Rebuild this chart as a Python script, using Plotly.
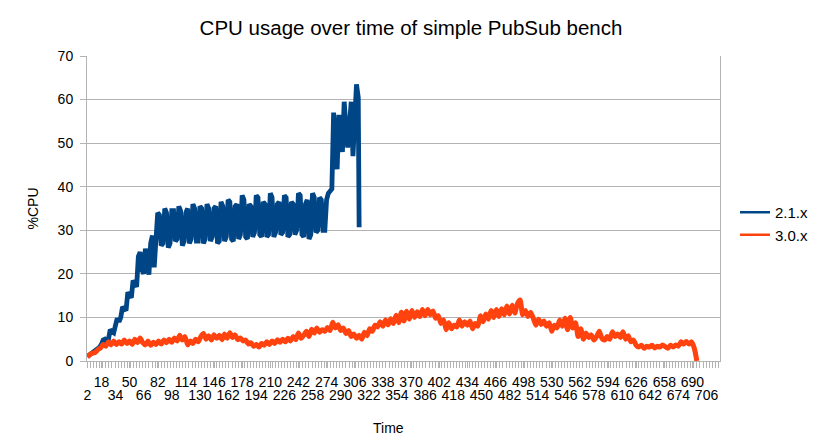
import plotly.graph_objects as go

# ---- data ----
blue_name = "2.1.x"
orange_name = "3.0.x"

blue_time = list(range(2, 311, 2)) + [311]
blue_cpu = [
    # rise (time 2..80)
    1.0, 1.3, 1.7, 2.0, 2.3, 2.6, 2.9, 3.2, 3.8, 4.8,
    5.0, 4.6, 5.0, 7.2, 6.8, 6.5, 8.2, 9.8, 9.0, 10.0,
    12.4, 12.0, 11.6, 15.8, 15.2, 14.5, 18.5, 17.5, 17.0, 24.0,
    25.0, 21.0, 20.0, 25.8, 23.0, 19.8, 27.0, 28.8, 21.5, 27.0,
    # plateau (time 82..272)
    34.0, 33.5, 26.5, 27.0,
    35.0, 34.0, 26.0, 27.0,
    34.5, 34.5, 27.5, 28.0,
    35.5, 34.5, 26.5, 27.5,
    34.0, 35.0, 27.0, 28.0,
    36.0, 35.0, 27.5, 27.5,
    35.5, 35.0, 27.0, 28.0,
    36.0, 35.0, 27.5, 28.5,
    35.0, 35.5, 27.0, 27.5,
    36.5, 35.5, 27.5, 28.5,
    37.0, 36.5, 28.0, 27.5,
    35.5, 36.0, 28.0, 29.0,
    38.0, 37.0, 28.5, 28.0,
    36.0, 35.5, 28.5, 29.5,
    38.0, 37.5, 29.0, 28.5,
    36.5, 36.0, 28.5, 29.0,
    38.5, 37.5, 28.5, 29.5,
    36.0, 36.5, 29.0, 29.5,
    38.0, 37.5, 28.5, 29.0,
    36.5, 36.0, 29.0, 30.0,
    38.5, 38.0, 29.0, 28.5,
    36.0, 37.0, 28.0, 29.0,
    38.5, 37.5, 29.5, 30.0,
    37.5, 37.0, 30.0, 30.0,
    # jump and end (time 274..311)
    37.0, 38.5, 39.0, 39.5, 57.0, 50.0, 44.0, 56.5, 50.0, 48.0,
    59.5, 54.0, 49.0, 54.0, 59.5, 47.0, 58.0, 63.5, 60.5, 30.7,
]

orange_time = list(range(2, 696, 3))
orange_cpu = [
    0.9, 1.5, 1.8, 2.0, 2.6, 3.0, 3.8, 3.4, 4.4, 3.7,
    4.6, 3.8, 4.4, 3.9, 4.8, 4.0, 4.6, 3.8, 5.0, 4.2,
    5.3, 4.2, 3.7, 4.6, 3.6, 4.3, 3.8, 4.6, 3.9, 4.8,
    4.2, 5.0, 4.3, 5.3, 4.6, 5.9, 4.8, 5.6, 3.7, 4.6,
    4.0, 5.0, 4.4, 5.6, 6.3, 5.0, 5.8, 4.8, 6.0, 5.2,
    5.9, 4.9, 6.2, 5.2, 6.5, 5.4, 6.0, 4.9, 5.3, 4.6,
    4.8, 3.9, 4.2, 3.4, 3.8, 3.2, 4.0, 3.6, 4.4, 3.8,
    4.6, 4.0, 4.9, 4.3, 5.0, 4.4, 5.2, 4.6, 5.6, 4.9,
    6.4, 5.2, 5.9, 6.8, 5.6, 7.3, 6.4, 7.6, 6.6, 7.2,
    6.8, 7.7, 7.0, 8.9, 7.6, 8.3, 7.0, 7.6, 6.3, 7.0,
    5.6, 6.2, 5.2, 5.9, 5.0, 6.6, 5.8, 7.4, 6.8, 8.2,
    7.8, 9.0, 8.0, 9.4, 8.3, 9.7, 8.6, 10.5, 8.8, 11.2,
    9.2, 11.4, 9.6, 11.6, 10.0, 11.3, 10.2, 11.8, 10.4, 11.8,
    10.6, 11.5, 9.8, 10.4, 8.6, 9.4, 7.2, 8.8, 7.4, 8.2,
    7.8, 9.4, 8.0, 9.0, 8.2, 9.2, 7.4, 8.6, 8.0, 10.4,
    9.0, 10.8, 9.6, 11.6, 10.0, 11.8, 10.2, 12.0, 10.6, 12.6,
    10.8, 12.8, 11.0, 13.2, 14.0, 10.6, 11.6, 10.2, 11.2, 9.8,
    8.2, 9.6, 8.4, 9.2, 8.0, 8.8, 6.8, 8.2, 7.6, 9.4,
    8.0, 9.8, 7.2, 10.0, 7.6, 8.8, 5.6, 7.4, 5.0, 6.4,
    5.4, 6.0, 4.8, 5.6, 6.8, 5.2, 4.8, 5.6, 5.0, 6.7,
    5.6, 6.2, 5.4, 6.7, 5.0, 5.8, 4.4, 4.8, 3.6, 3.2,
    3.6, 2.9, 3.4, 3.2, 3.6, 3.0, 3.4, 3.2, 3.7, 3.3,
    2.9, 3.6, 3.2, 3.7, 3.4, 4.4, 3.9, 4.5, 3.9, 4.4,
    3.0, 0.0,
]

x_labels_top = [18, 50, 82, 114, 146, 178, 210, 242, 274, 306, 338,
                370, 402, 434, 466, 498, 530, 562, 594, 626, 658, 690]
x_labels_bottom = [2, 34, 66, 98, 130, 162, 194, 226, 258, 290, 322, 354,
                   386, 418, 450, 482, 514, 546, 578, 610, 642, 674, 706]
y_ticks = [0, 10, 20, 30, 40, 50, 60, 70]

BLUE = "#004586"
ORANGE = "#ff420e"
GRID = "#b3b3b3"
FONT = "Liberation Sans"

# the page body adds an 8 px offset, so the figure is drawn 8 px smaller
OFF = 8
W, H = 823 - OFF, 446 - OFF
PL, PR, PT, PB = 87 - OFF, 720 - OFF, 56 - OFF, 361 - OFF  # plot area in figure px
PW, PH = PR - PL, PB - PT

fig = go.Figure()
fig.add_trace(go.Scatter(x=blue_time, y=blue_cpu, mode="lines",
                         line=dict(color=BLUE, width=4.8), showlegend=False))
fig.add_trace(go.Scatter(x=orange_time, y=orange_cpu, mode="lines",
                         line=dict(color=ORANGE, width=5, shape="spline", smoothing=0.6),
                         showlegend=False))
# legend entries with thin line samples
fig.add_trace(go.Scatter(x=[None], y=[None], mode="lines", name=blue_name,
                         line=dict(color=BLUE, width=2.5)))
fig.add_trace(go.Scatter(x=[None], y=[None], mode="lines", name=orange_name,
                         line=dict(color=ORANGE, width=2.5)))
# second x axis only for the lower row of tick labels
fig.add_trace(go.Scatter(x=[None], y=[None], xaxis="x2", showlegend=False))

xrange = [1.6, 721.3]

fig.update_layout(
    width=W, height=H,
    margin=dict(l=PL, r=W - PR, t=PT, b=H - PB, autoexpand=False),
    paper_bgcolor="white", plot_bgcolor="white",
    font=dict(family=FONT, size=14, color="black"),
    title=dict(text="CPU usage over time of simple PubSub bench",
               x=(411 - OFF) / W, xanchor="center", xref="container",
               y=1 - (28 - OFF) / H, yanchor="middle", yref="container",
               font=dict(size=20.5, family=FONT)),
    xaxis=dict(range=xrange, tickmode="array", tickvals=x_labels_top,
               ticktext=[str(v) for v in x_labels_top],
               showgrid=False, zeroline=False, showline=True, linecolor=GRID,
               ticks="outside", ticklen=6, tickcolor=GRID,
               minor=dict(dtick=3.5, tick0=2, ticks="outside", ticklen=6,
                          tickcolor=GRID, showgrid=False),
               tickfont=dict(size=14), ticklabelstandoff=2),
    xaxis2=dict(range=xrange, overlaying="x", anchor="y", side="bottom",
                tickmode="array", tickvals=x_labels_bottom,
                ticktext=[str(v) for v in x_labels_bottom],
                showgrid=False, zeroline=False, showline=False, ticks="",
                tickfont=dict(size=14), ticklabelstandoff=24),
    yaxis=dict(range=[0, 70], tickmode="array", tickvals=y_ticks,
               showgrid=True, gridcolor=GRID, gridwidth=1, zeroline=False,
               showline=True, linecolor=GRID, mirror=True,
               ticks="outside", ticklen=6, tickcolor=GRID,
               tickfont=dict(size=14), ticklabelstandoff=4),
    legend=dict(x=(735 - 87) / PW, xanchor="left", y=(361 - 223.5) / PH,
                yanchor="middle", font=dict(size=15), bgcolor="rgba(0,0,0,0)",
                tracegroupgap=0, itemwidth=30),
    annotations=[
        dict(text="Time", x=(388 - 87) / PW, y=(361 - 428) / PH,
             xref="paper", yref="paper", xanchor="center", yanchor="middle",
             showarrow=False, font=dict(size=14)),
        dict(text="%CPU", x=(32 - 87) / PW, y=0.5, textangle=-90,
             xref="paper", yref="paper", xanchor="center", yanchor="middle",
             showarrow=False, font=dict(size=14)),
    ],
)

fig.write_html("out.html")
